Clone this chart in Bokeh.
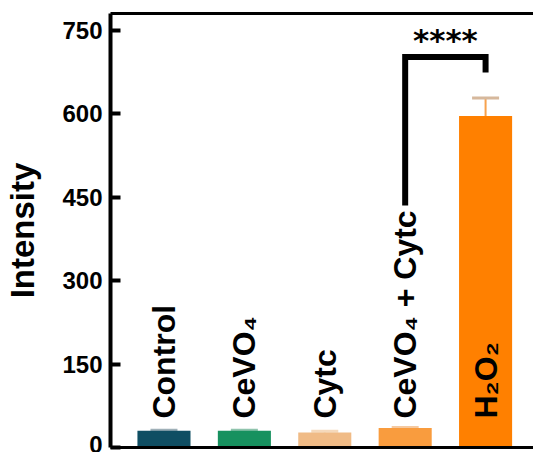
import numpy as np
from bokeh.plotting import figure
from bokeh.models import ColumnDataSource, Range1d, LinearAxis, FixedTicker, Whisker, TeeHead
from bokeh.core.properties import value
from bokeh.embed import file_html
from bokeh.resources import INLINE

# ---- data ----
categories = ["Control", "CeVO₄", "Cytc", "CeVO₄ + Cytc", "H₂O₂"]
intensity = [30, 30, 27, 35, 596]
errors = [1, 1, 2, 1, 32]
bar_colors = ["#0f4e63", "#17915f", "#f0bb86", "#f99c3e", "#ff8000"]
cap_colors = ["#9fb0b8", "#8fc4ad", "#f5d9bb", "#f5c9a0", "#d6b89c"]
stem_colors = ["#0f4e63", "#17915f", "#f0bb86", "#f99c3e", "#f7a24d"]
label_colors = ["black", "black", "black", "black", "black"]
y_ticks = [0, 150, 300, 450, 600, 750]
significance = "****"

FONT = "Liberation Sans"

x = list(range(len(categories)))
src = ColumnDataSource(dict(
    x=x, top=intensity, color=bar_colors, cap=cap_colors, stem=stem_colors,
    upper=[v + e for v, e in zip(intensity, errors)],
    label=categories, lcolor=label_colors,
    ly=[52] * len(categories),
))

p = figure(width=533, height=452, output_backend="svg", toolbar_location=None,
           x_range=Range1d(-0.665, 4.596), y_range=Range1d(0, 780),
           min_border_left=110, min_border_right=0, min_border_top=13, min_border_bottom=5,
           background_fill_color="white", border_fill_color="white")
p.outline_line_color = None
p.grid.visible = False

p.vbar(x="x", top="top", width=0.66, fill_color="color", line_color=None, source=src)

p.add_layout(Whisker(source=src, base="x", upper="upper", lower="top",
                     line_color="stem", line_width=2,
                     upper_head=None, lower_head=None))
p.add_layout(Whisker(source=src, base="x", upper="upper", lower="upper",
                     line_color=None,
                     upper_head=TeeHead(size=27, line_color="cap", line_width=3),
                     lower_head=None))

p.text(x="x", y="ly", text="label", angle=np.pi / 2, text_align="left",
       text_baseline="middle", text_font=value(FONT), text_font_style="bold",
       text_font_size="32px", text_color="lcolor", source=src)

# significance bracket between group 3 and 4
bx = [x[3], x[3], x[4], x[4]]
by = [435, 702, 702, 674]
p.line(bx, by, line_color="black", line_width=6, line_join="miter")
p.text(x=[(x[3] + x[4]) / 2], y=[733], text=[significance], text_align="center",
       text_baseline="middle", text_font=value("DejaVu Sans"), text_font_style="bold",
       text_font_size="31px", text_color="black")

# axes
yax = p.yaxis[0]
yax.ticker = FixedTicker(ticks=y_ticks)
yax.axis_label = "Intensity"
yax.axis_label_text_font = FONT
yax.axis_label_text_font_style = "bold"
yax.axis_label_text_font_size = "33px"
yax.axis_label_text_color = "black"
yax.axis_label_standoff = 18
yax.major_label_text_font = FONT
yax.major_label_text_font_style = "bold"
yax.major_label_text_font_size = "24px"
yax.major_label_text_color = "black"
yax.major_label_standoff = 8
yax.major_tick_in = 10
yax.major_tick_out = 0
yax.minor_tick_line_color = None
yax.axis_line_width = 4
yax.major_tick_line_width = 4
yax.axis_line_color = "black"
yax.major_tick_line_color = "black"

xax = p.xaxis[0]
xax.ticker = FixedTicker(ticks=[])
xax.major_label_text_font_size = "0px"
xax.major_tick_line_color = None
xax.minor_tick_line_color = None
xax.axis_line_width = 3
xax.axis_line_color = "black"
xax.major_label_standoff = 0

top_ax = LinearAxis(ticker=FixedTicker(ticks=[]), major_label_text_font_size="0px",
                    major_tick_line_color=None, minor_tick_line_color=None,
                    axis_line_width=3, axis_line_color="black", major_label_standoff=0)
p.add_layout(top_ax, "above")

open("out.html", "w").write(file_html(p, INLINE))
